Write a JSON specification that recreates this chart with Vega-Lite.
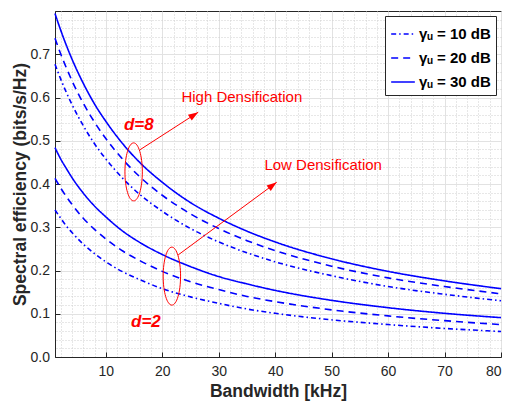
{
  "$schema": "https://vega.github.io/schema/vega-lite/v6.json",
  "width": 446,
  "height": 346,
  "autosize": {"type": "none"},
  "padding": {"left": 55, "top": 11, "right": 7, "bottom": 49},
  "background": "white",
  "config": {
    "view": {"stroke": "#262626", "strokeWidth": 1},
    "font": "Liberation Sans",
    "axis": {
      "labelFont": "Liberation Sans",
      "labelFontSize": 14,
      "labelColor": "#262626",
      "titleFont": "Liberation Sans",
      "titleFontSize": 17.5,
      "titleFontWeight": "bold",
      "titleColor": "#262626",
      "domainColor": "#262626",
      "tickColor": "#262626",
      "gridColor": "#e2e2e2",
      "gridWidth": 1
    }
  },
  "datasets": {
    "curves": [
      {"density": "d=8", "gamma": "γᵤ = 30 dB", "bandwidth": 1, "se": 0.794},
      {"density": "d=8", "gamma": "γᵤ = 30 dB", "bandwidth": 2, "se": 0.756},
      {"density": "d=8", "gamma": "γᵤ = 30 dB", "bandwidth": 3, "se": 0.721},
      {"density": "d=8", "gamma": "γᵤ = 30 dB", "bandwidth": 4, "se": 0.689},
      {"density": "d=8", "gamma": "γᵤ = 30 dB", "bandwidth": 6, "se": 0.633},
      {"density": "d=8", "gamma": "γᵤ = 30 dB", "bandwidth": 8, "se": 0.585},
      {"density": "d=8", "gamma": "γᵤ = 30 dB", "bandwidth": 10, "se": 0.545},
      {"density": "d=8", "gamma": "γᵤ = 30 dB", "bandwidth": 13, "se": 0.493},
      {"density": "d=8", "gamma": "γᵤ = 30 dB", "bandwidth": 16, "se": 0.450},
      {"density": "d=8", "gamma": "γᵤ = 30 dB", "bandwidth": 20, "se": 0.404},
      {"density": "d=8", "gamma": "γᵤ = 30 dB", "bandwidth": 25, "se": 0.357},
      {"density": "d=8", "gamma": "γᵤ = 30 dB", "bandwidth": 30, "se": 0.321},
      {"density": "d=8", "gamma": "γᵤ = 30 dB", "bandwidth": 35, "se": 0.291},
      {"density": "d=8", "gamma": "γᵤ = 30 dB", "bandwidth": 40, "se": 0.266},
      {"density": "d=8", "gamma": "γᵤ = 30 dB", "bandwidth": 50, "se": 0.227},
      {"density": "d=8", "gamma": "γᵤ = 30 dB", "bandwidth": 60, "se": 0.198},
      {"density": "d=8", "gamma": "γᵤ = 30 dB", "bandwidth": 70, "se": 0.176},
      {"density": "d=8", "gamma": "γᵤ = 30 dB", "bandwidth": 80, "se": 0.158},
      {"density": "d=8", "gamma": "γᵤ = 20 dB", "bandwidth": 1, "se": 0.737},
      {"density": "d=8", "gamma": "γᵤ = 20 dB", "bandwidth": 2, "se": 0.701},
      {"density": "d=8", "gamma": "γᵤ = 20 dB", "bandwidth": 3, "se": 0.669},
      {"density": "d=8", "gamma": "γᵤ = 20 dB", "bandwidth": 4, "se": 0.639},
      {"density": "d=8", "gamma": "γᵤ = 20 dB", "bandwidth": 6, "se": 0.587},
      {"density": "d=8", "gamma": "γᵤ = 20 dB", "bandwidth": 8, "se": 0.543},
      {"density": "d=8", "gamma": "γᵤ = 20 dB", "bandwidth": 10, "se": 0.505},
      {"density": "d=8", "gamma": "γᵤ = 20 dB", "bandwidth": 13, "se": 0.457},
      {"density": "d=8", "gamma": "γᵤ = 20 dB", "bandwidth": 16, "se": 0.417},
      {"density": "d=8", "gamma": "γᵤ = 20 dB", "bandwidth": 20, "se": 0.374},
      {"density": "d=8", "gamma": "γᵤ = 20 dB", "bandwidth": 25, "se": 0.331},
      {"density": "d=8", "gamma": "γᵤ = 20 dB", "bandwidth": 30, "se": 0.297},
      {"density": "d=8", "gamma": "γᵤ = 20 dB", "bandwidth": 35, "se": 0.269},
      {"density": "d=8", "gamma": "γᵤ = 20 dB", "bandwidth": 40, "se": 0.246},
      {"density": "d=8", "gamma": "γᵤ = 20 dB", "bandwidth": 50, "se": 0.210},
      {"density": "d=8", "gamma": "γᵤ = 20 dB", "bandwidth": 60, "se": 0.183},
      {"density": "d=8", "gamma": "γᵤ = 20 dB", "bandwidth": 70, "se": 0.163},
      {"density": "d=8", "gamma": "γᵤ = 20 dB", "bandwidth": 80, "se": 0.146},
      {"density": "d=8", "gamma": "γᵤ = 10 dB", "bandwidth": 1, "se": 0.677},
      {"density": "d=8", "gamma": "γᵤ = 10 dB", "bandwidth": 2, "se": 0.643},
      {"density": "d=8", "gamma": "γᵤ = 10 dB", "bandwidth": 3, "se": 0.612},
      {"density": "d=8", "gamma": "γᵤ = 10 dB", "bandwidth": 4, "se": 0.584},
      {"density": "d=8", "gamma": "γᵤ = 10 dB", "bandwidth": 6, "se": 0.535},
      {"density": "d=8", "gamma": "γᵤ = 10 dB", "bandwidth": 8, "se": 0.493},
      {"density": "d=8", "gamma": "γᵤ = 10 dB", "bandwidth": 10, "se": 0.458},
      {"density": "d=8", "gamma": "γᵤ = 10 dB", "bandwidth": 13, "se": 0.413},
      {"density": "d=8", "gamma": "γᵤ = 10 dB", "bandwidth": 16, "se": 0.376},
      {"density": "d=8", "gamma": "γᵤ = 10 dB", "bandwidth": 20, "se": 0.337},
      {"density": "d=8", "gamma": "γᵤ = 10 dB", "bandwidth": 25, "se": 0.297},
      {"density": "d=8", "gamma": "γᵤ = 10 dB", "bandwidth": 30, "se": 0.266},
      {"density": "d=8", "gamma": "γᵤ = 10 dB", "bandwidth": 35, "se": 0.241},
      {"density": "d=8", "gamma": "γᵤ = 10 dB", "bandwidth": 40, "se": 0.220},
      {"density": "d=8", "gamma": "γᵤ = 10 dB", "bandwidth": 50, "se": 0.188},
      {"density": "d=8", "gamma": "γᵤ = 10 dB", "bandwidth": 60, "se": 0.163},
      {"density": "d=8", "gamma": "γᵤ = 10 dB", "bandwidth": 70, "se": 0.145},
      {"density": "d=8", "gamma": "γᵤ = 10 dB", "bandwidth": 80, "se": 0.130},
      {"density": "d=2", "gamma": "γᵤ = 30 dB", "bandwidth": 1, "se": 0.484},
      {"density": "d=2", "gamma": "γᵤ = 30 dB", "bandwidth": 2, "se": 0.458},
      {"density": "d=2", "gamma": "γᵤ = 30 dB", "bandwidth": 3, "se": 0.436},
      {"density": "d=2", "gamma": "γᵤ = 30 dB", "bandwidth": 4, "se": 0.415},
      {"density": "d=2", "gamma": "γᵤ = 30 dB", "bandwidth": 6, "se": 0.379},
      {"density": "d=2", "gamma": "γᵤ = 30 dB", "bandwidth": 8, "se": 0.349},
      {"density": "d=2", "gamma": "γᵤ = 30 dB", "bandwidth": 10, "se": 0.324},
      {"density": "d=2", "gamma": "γᵤ = 30 dB", "bandwidth": 13, "se": 0.291},
      {"density": "d=2", "gamma": "γᵤ = 30 dB", "bandwidth": 16, "se": 0.265},
      {"density": "d=2", "gamma": "γᵤ = 30 dB", "bandwidth": 20, "se": 0.237},
      {"density": "d=2", "gamma": "γᵤ = 30 dB", "bandwidth": 25, "se": 0.209},
      {"density": "d=2", "gamma": "γᵤ = 30 dB", "bandwidth": 30, "se": 0.186},
      {"density": "d=2", "gamma": "γᵤ = 30 dB", "bandwidth": 35, "se": 0.169},
      {"density": "d=2", "gamma": "γᵤ = 30 dB", "bandwidth": 40, "se": 0.154},
      {"density": "d=2", "gamma": "γᵤ = 30 dB", "bandwidth": 50, "se": 0.131},
      {"density": "d=2", "gamma": "γᵤ = 30 dB", "bandwidth": 60, "se": 0.114},
      {"density": "d=2", "gamma": "γᵤ = 30 dB", "bandwidth": 70, "se": 0.101},
      {"density": "d=2", "gamma": "γᵤ = 30 dB", "bandwidth": 80, "se": 0.091},
      {"density": "d=2", "gamma": "γᵤ = 20 dB", "bandwidth": 1, "se": 0.413},
      {"density": "d=2", "gamma": "γᵤ = 20 dB", "bandwidth": 2, "se": 0.391},
      {"density": "d=2", "gamma": "γᵤ = 20 dB", "bandwidth": 3, "se": 0.371},
      {"density": "d=2", "gamma": "γᵤ = 20 dB", "bandwidth": 4, "se": 0.353},
      {"density": "d=2", "gamma": "γᵤ = 20 dB", "bandwidth": 6, "se": 0.321},
      {"density": "d=2", "gamma": "γᵤ = 20 dB", "bandwidth": 8, "se": 0.295},
      {"density": "d=2", "gamma": "γᵤ = 20 dB", "bandwidth": 10, "se": 0.273},
      {"density": "d=2", "gamma": "γᵤ = 20 dB", "bandwidth": 13, "se": 0.245},
      {"density": "d=2", "gamma": "γᵤ = 20 dB", "bandwidth": 16, "se": 0.223},
      {"density": "d=2", "gamma": "γᵤ = 20 dB", "bandwidth": 20, "se": 0.198},
      {"density": "d=2", "gamma": "γᵤ = 20 dB", "bandwidth": 25, "se": 0.174},
      {"density": "d=2", "gamma": "γᵤ = 20 dB", "bandwidth": 30, "se": 0.156},
      {"density": "d=2", "gamma": "γᵤ = 20 dB", "bandwidth": 35, "se": 0.140},
      {"density": "d=2", "gamma": "γᵤ = 20 dB", "bandwidth": 40, "se": 0.128},
      {"density": "d=2", "gamma": "γᵤ = 20 dB", "bandwidth": 50, "se": 0.109},
      {"density": "d=2", "gamma": "γᵤ = 20 dB", "bandwidth": 60, "se": 0.095},
      {"density": "d=2", "gamma": "γᵤ = 20 dB", "bandwidth": 70, "se": 0.084},
      {"density": "d=2", "gamma": "γᵤ = 20 dB", "bandwidth": 80, "se": 0.075},
      {"density": "d=2", "gamma": "γᵤ = 10 dB", "bandwidth": 1, "se": 0.340},
      {"density": "d=2", "gamma": "γᵤ = 10 dB", "bandwidth": 2, "se": 0.321},
      {"density": "d=2", "gamma": "γᵤ = 10 dB", "bandwidth": 3, "se": 0.303},
      {"density": "d=2", "gamma": "γᵤ = 10 dB", "bandwidth": 4, "se": 0.288},
      {"density": "d=2", "gamma": "γᵤ = 10 dB", "bandwidth": 6, "se": 0.261},
      {"density": "d=2", "gamma": "γᵤ = 10 dB", "bandwidth": 8, "se": 0.239},
      {"density": "d=2", "gamma": "γᵤ = 10 dB", "bandwidth": 10, "se": 0.220},
      {"density": "d=2", "gamma": "γᵤ = 10 dB", "bandwidth": 13, "se": 0.197},
      {"density": "d=2", "gamma": "γᵤ = 10 dB", "bandwidth": 16, "se": 0.179},
      {"density": "d=2", "gamma": "γᵤ = 10 dB", "bandwidth": 20, "se": 0.158},
      {"density": "d=2", "gamma": "γᵤ = 10 dB", "bandwidth": 25, "se": 0.139},
      {"density": "d=2", "gamma": "γᵤ = 10 dB", "bandwidth": 30, "se": 0.124},
      {"density": "d=2", "gamma": "γᵤ = 10 dB", "bandwidth": 35, "se": 0.111},
      {"density": "d=2", "gamma": "γᵤ = 10 dB", "bandwidth": 40, "se": 0.101},
      {"density": "d=2", "gamma": "γᵤ = 10 dB", "bandwidth": 50, "se": 0.086},
      {"density": "d=2", "gamma": "γᵤ = 10 dB", "bandwidth": 60, "se": 0.075},
      {"density": "d=2", "gamma": "γᵤ = 10 dB", "bandwidth": 70, "se": 0.066},
      {"density": "d=2", "gamma": "γᵤ = 10 dB", "bandwidth": 80, "se": 0.059}
    ],
    "rings": [
      {"density": "d=8", "bandwidth": 14.93, "se": 0.428},
      {"density": "d=2", "bandwidth": 21.7, "se": 0.187}
    ],
    "arrows": [
      {"name": "high", "bandwidth": 16.03, "se": 0.479, "bandwidth2": 26.37, "se2": 0.566},
      {"name": "low", "bandwidth": 22.82, "se": 0.236, "bandwidth2": 40.27, "se2": 0.404}
    ],
    "captions": [
      {"label": "High Densification", "bandwidth": 34.1, "se": 0.601},
      {"label": "Low Densification", "bandwidth": 48.5, "se": 0.444}
    ],
    "tags": [
      {"label": "d=8", "bandwidth": 15.85, "se": 0.536},
      {"label": "d=2", "bandwidth": 17.1, "se": 0.080}
    ]
  },
  "resolve": {"axis": {"x": "independent", "y": "independent"}},
  "layer": [
    {
      "data": {"name": "curves"},
      "mark": {"type": "line", "opacity": 0},
      "encoding": {
        "detail": {"field": "gamma"},
        "x": {
          "field": "bandwidth", "type": "quantitative",
          "scale": {"domain": [1, 80], "nice": false, "zero": false},
          "axis": {"orient": "top", "title": null, "labels": false, "ticks": false, "domain": false,
                   "grid": true, "gridDash": [1, 2], "gridColor": "#cfcfcf",
                   "values": [2,4,6,8,12,14,16,18,22,24,26,28,32,34,36,38,42,44,46,48,52,54,56,58,62,64,66,68,72,74,76,78]}
        },
        "y": {
          "field": "se", "type": "quantitative",
          "scale": {"domain": [0, 0.8], "nice": false},
          "axis": {"orient": "right", "title": null, "labels": false, "ticks": false, "domain": false,
                   "grid": true, "gridDash": [1, 2], "gridColor": "#cfcfcf",
                   "values": [0.02,0.04,0.06,0.08,0.12,0.14,0.16,0.18,0.22,0.24,0.26,0.28,0.32,0.34,0.36,0.38,0.42,0.44,0.46,0.48,0.52,0.54,0.56,0.58,0.62,0.64,0.66,0.68,0.72,0.74,0.76,0.78]}
        }
      }
    },
    {
      "data": {"name": "curves"},
      "mark": {"type": "line", "strokeWidth": 1.6, "color": "#0000ff", "interpolate": "monotone"},
      "encoding": {
        "detail": {"field": "density"},
        "x": {
          "field": "bandwidth", "type": "quantitative",
          "scale": {"domain": [1, 80], "nice": false, "zero": false},
          "axis": {"orient": "bottom", "title": "Bandwidth [kHz]", "values": [10,20,30,40,50,60,70,80],
                   "grid": true, "tickSize": -5, "labelPadding": 12, "titlePadding": 4}
        },
        "y": {
          "field": "se", "type": "quantitative",
          "scale": {"domain": [0, 0.8], "nice": false},
          "axis": {"orient": "left", "title": "Spectral efficiency (bits/s/Hz)", "values": [0,0.1,0.2,0.3,0.4,0.5,0.6,0.7],
                   "grid": true, "tickSize": -5, "labelPadding": 10.5, "titlePadding": 1}
        },
        "strokeDash": {
          "field": "gamma", "type": "nominal",
          "scale": {"domain": ["γᵤ = 10 dB", "γᵤ = 20 dB", "γᵤ = 30 dB"], "range": [[5, 3, 1.5, 3], [7, 5], [1, 0]]},
          "legend": {
            "title": null, "orient": "top-right", "offset": 5,
            "symbolType": "stroke", "symbolSize": 560, "symbolStrokeWidth": 1.6, "symbolStrokeColor": "#0000ff",
            "labelFont": "Liberation Sans", "labelFontSize": 15, "labelFontWeight": "bold", "labelColor": "#000000",
            "rowPadding": 3, "padding": 5, "strokeColor": "#262626", "fillColor": "white", "labelOffset": 3
          }
        }
      }
    },
    {
      "data": {"name": "rings"},
      "mark": {"type": "point", "shape": "M-0.3,0 A0.3,1 0 1,0 0.3,0 A0.3,1 0 1,0 -0.3,0 Z", "filled": false, "stroke": "#ff0000", "strokeWidth": 1, "size": 3364, "opacity": 1},
      "encoding": {
        "x": {"field": "bandwidth", "type": "quantitative", "axis": null},
        "y": {"field": "se", "type": "quantitative", "axis": null}
      }
    },
    {
      "data": {"name": "arrows"},
      "mark": {"type": "rule", "color": "#ff0000", "strokeWidth": 1},
      "encoding": {
        "x": {"field": "bandwidth", "type": "quantitative", "axis": null},
        "y": {"field": "se", "type": "quantitative", "axis": null},
        "x2": {"field": "bandwidth2"},
        "y2": {"field": "se2"}
      }
    },
    {
      "data": {"name": "arrows"},
      "mark": {"type": "point", "shape": "M0,0 L0.35,1 L-0.35,1 Z", "filled": true, "color": "#ff0000", "size": 400, "opacity": 1},
      "encoding": {
        "x": {"field": "bandwidth2", "type": "quantitative", "axis": null},
        "y": {"field": "se2", "type": "quantitative", "axis": null},
        "angle": {"field": "name", "type": "nominal", "scale": {"domain": ["high", "low"], "range": [57, 53.5]}, "legend": null}
      }
    },
    {
      "data": {"name": "captions"},
      "mark": {"type": "text", "color": "#ff0000", "font": "Liberation Sans", "fontSize": 15, "align": "center", "baseline": "middle"},
      "encoding": {
        "x": {"field": "bandwidth", "type": "quantitative", "axis": null},
        "y": {"field": "se", "type": "quantitative", "axis": null},
        "text": {"field": "label"}
      }
    },
    {
      "data": {"name": "tags"},
      "mark": {"type": "text", "color": "#ff0000", "font": "Liberation Sans", "fontSize": 17, "fontWeight": "bold", "fontStyle": "italic", "align": "center", "baseline": "middle"},
      "encoding": {
        "x": {"field": "bandwidth", "type": "quantitative", "axis": null},
        "y": {"field": "se", "type": "quantitative", "axis": null},
        "text": {"field": "label"}
      }
    }
  ]
}
